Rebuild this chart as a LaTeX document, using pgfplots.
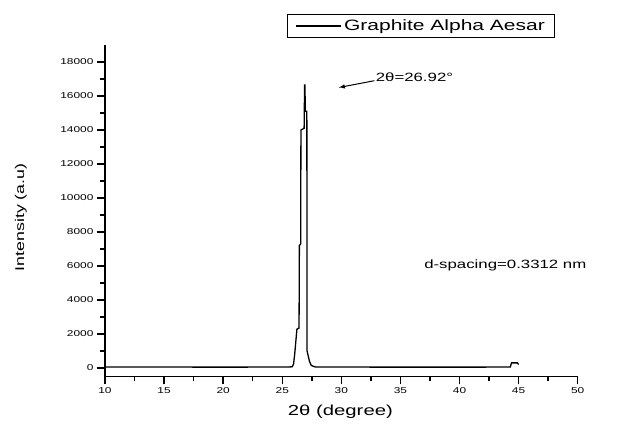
\documentclass[border=0pt]{standalone}
\usepackage{fontspec}
\setmainfont{Liberation Sans}[FakeStretch=1.4]
\usepackage{pgfplots}
\pgfplotsset{compat=1.18}
\begin{document}
\begin{tikzpicture}[x=1pt,y=1pt]
\path[use as bounding box] (-105,-53.5) rectangle (525,376.5);
\begin{axis}[
  at={(0,0)}, anchor=south west,
  scale only axis, width=472.7pt, height=331.5pt,
  xmin=10, xmax=50, ymin=-500, ymax=19000,
  axis x line*=bottom, axis y line*=left,
  x axis line style={-, line width=1.6pt},
  y axis line style={-, line width=1.6pt},
  xtick={10,15,...,50}, minor x tick num=1,
  ytick={0,2000,...,18000}, minor y tick num=1,
  scaled y ticks=false,
  tick align=outside,
  major tick length=8pt, minor tick length=5pt,
  every tick/.style={black, line width=1.4pt},
  /pgf/number format/assume math mode=true,
  /pgf/number format/set thousands separator={},
  ticklabel style={font=\fontsize{8.5}{10}\selectfont},
  xlabel={2θ (degree)},
  ylabel={Intensity (a.u)},
  xlabel style={font=\fontsize{14.5}{16}\selectfont, at={(axis description cs:0.498,-0.107)}, anchor=center},
  ylabel style={font=\fontsize{12.7}{14}\selectfont, at={(axis description cs:-0.178,0.48)}, anchor=center},
  legend style={at={(0.953,1.093)}, anchor=north east, draw=black, line width=1.2pt,
    font=\fontsize{15}{17}\selectfont, inner xsep=8pt, inner ysep=3pt},
  legend image code/.code={\draw[#1] (0pt,0pt) -- (45pt,0pt);},
  legend cell align=left,
  clip=false,
]
\addplot[black, line width=1.3pt] coordinates {
(10,60) (15,55) (20,50) (24,55) (25.5,60) (25.85,70) (25.96,250) (26.05,800)
(26.24,2280) (26.42,2350) (26.45,7200) (26.56,7300) (26.58,14000) (26.85,14100)
(26.89,16650) (26.92,16650) (26.95,15100) (27.08,15100) (27.10,1000) (27.3,400)
(27.45,150) (27.8,60) (30,55) (35,50) (40,50) (44.3,55) (44.4,300) (44.9,300) (45,200)
};
\addlegendentry{Graphite Alpha Aesar}
\draw[-latex, line width=1pt] (axis cs:32.8,16900) -- (axis cs:29.8,16500);
\node[anchor=west, font=\fontsize{12}{14}\selectfont, inner sep=0pt] at (axis cs:32.9,17100) {2θ=26.92°};
\node[anchor=west, font=\fontsize{12}{14}\selectfont, inner sep=0pt] at (axis cs:37.0,6050) {d-spacing=0.3312 nm};
\end{axis}
\end{tikzpicture}
\end{document}
